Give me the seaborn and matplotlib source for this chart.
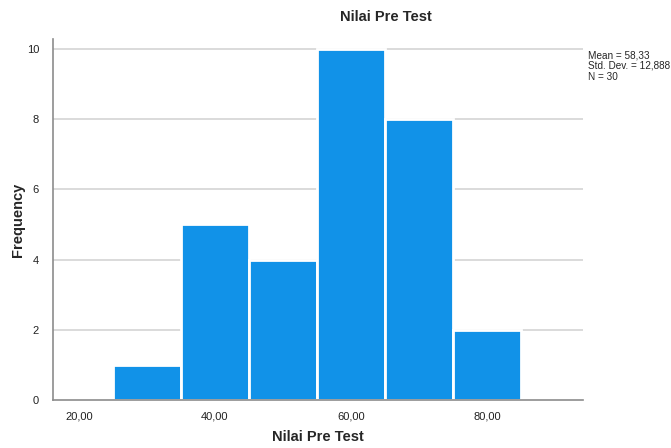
import numpy as np
import pandas as pd
import matplotlib
matplotlib.use("Agg")
import matplotlib.pyplot as plt
import seaborn as sns

# histogram bins (width 10)
bin_edges = [25, 35, 45, 55, 65, 75, 85]
bin_centers = [30, 40, 50, 60, 70, 80]
counts = [1, 5, 4, 10, 8, 2]
x_ticks = [20, 40, 60, 80]
x_tick_labels = ["20,00", "40,00", "60,00", "80,00"]
y_ticks = [0, 2, 4, 6, 8, 10]
stats_text = "Mean = 58,33\nStd. Dev. = 12,888\nN = 30"

df = pd.DataFrame({"nilai": bin_centers, "freq": counts})

sns.set_style("white")
plt.rcParams["font.family"] = ["Liberation Sans", "DejaVu Sans"]

fig = plt.figure(figsize=(6.71, 4.48), dpi=100)
ax = fig.add_axes([53 / 671, 1 - 400 / 448, 530 / 671, 361 / 448])

for y in y_ticks[1:]:
    ax.axhline(y, color="#d4d4d4", lw=1.2, zorder=0)

sns.histplot(data=df, x="nilai", weights="freq", bins=bin_edges, ax=ax,
             color="#1192E8", alpha=1, edgecolor="white", linewidth=2, zorder=2)

ax.set_xlim(16.2, 94.1)
ax.set_ylim(0, 10.28)
ax.set_xticks(x_ticks)
ax.set_xticklabels(x_tick_labels)
ax.set_yticks(y_ticks)
ax.tick_params(axis="both", length=0, labelsize=8, colors="#222222")
ax.tick_params(axis="y", pad=10)
ax.tick_params(axis="x", pad=8)

for s in ["top", "right"]:
    ax.spines[s].set_visible(False)
for s in ["left", "bottom"]:
    ax.spines[s].set_color("#8c8c8c")
    ax.spines[s].set_linewidth(1.2)

ax.set_xlabel("Nilai Pre Test", fontsize=10.5, fontweight="bold", va="center")
ax.set_ylabel("Frequency", fontsize=10.5, fontweight="bold", va="center")
ax.xaxis.set_label_coords(0.5, (400 - 437) / 361)
ax.yaxis.set_label_coords((18 - 53) / 530, 0.5)
fig.text(386 / 671, 1 - 17 / 448, "Nilai Pre Test", ha="center", va="center",
         fontsize=10.5, fontweight="bold")
fig.text(588 / 671, 1 - 50 / 448, stats_text, ha="left", va="top",
         fontsize=7.2, linespacing=1.1)

fig.savefig("out.png", dpi=100)
